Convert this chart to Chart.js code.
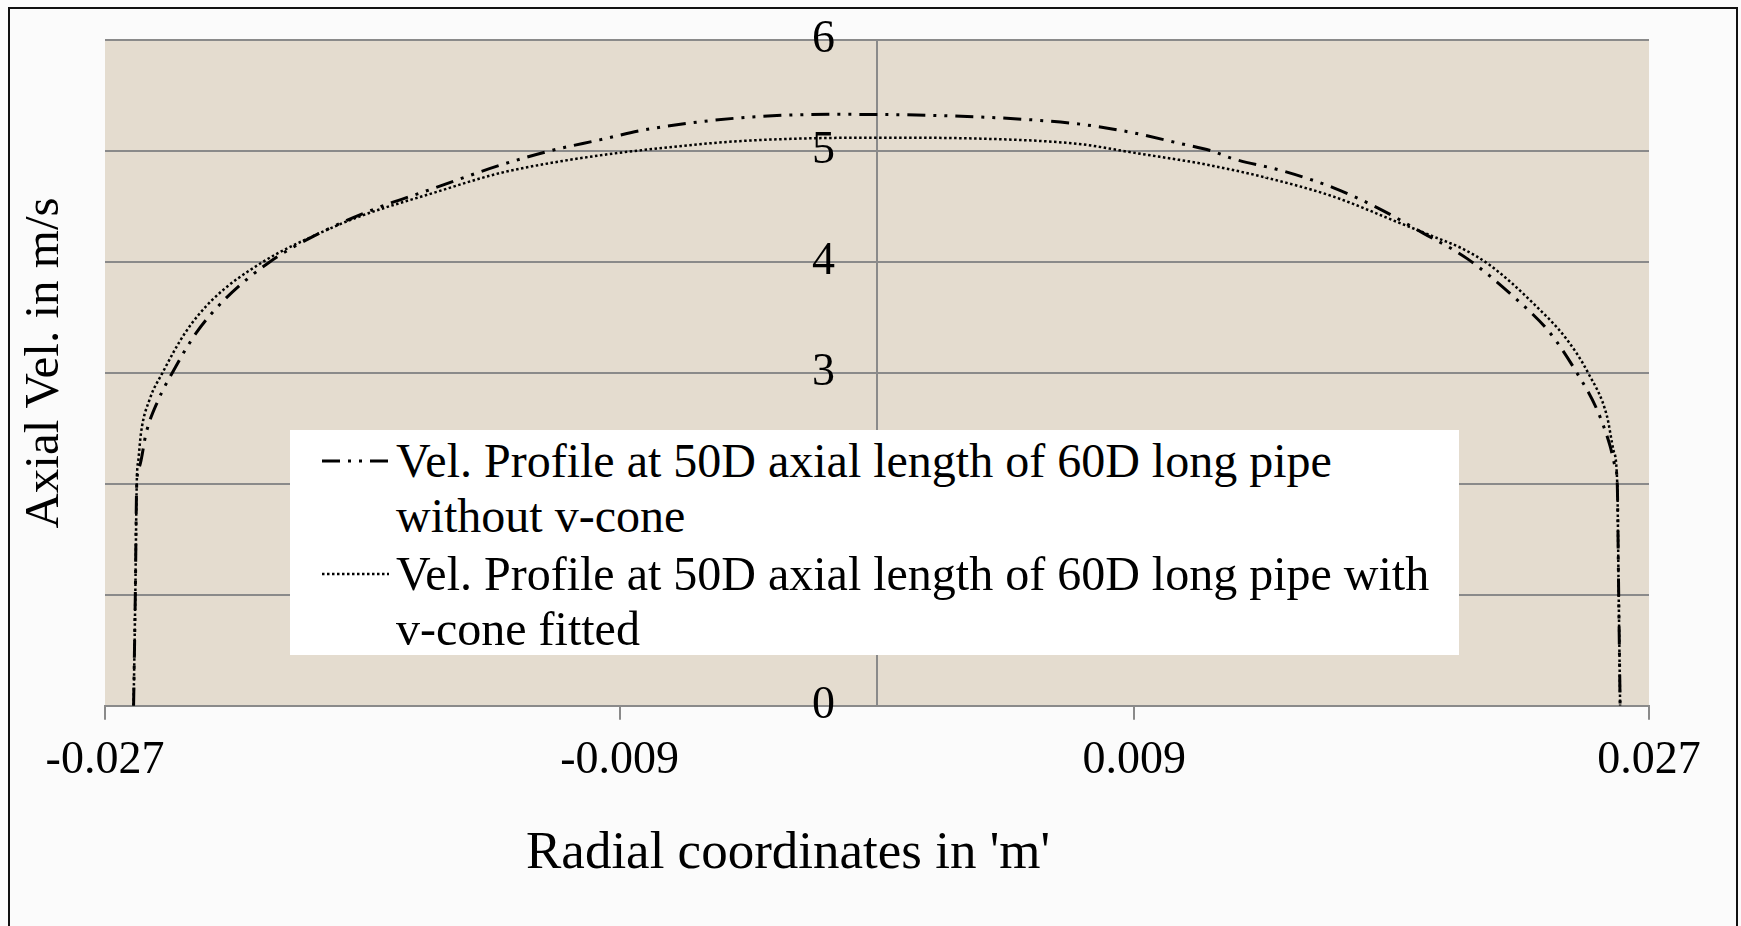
<!DOCTYPE html>
<html>
<head>
<meta charset="utf-8">
<title>Axial velocity profile</title>
<script src="https://cdn.jsdelivr.net/npm/chart.js@4.4.1/dist/chart.umd.min.js"></script>
<style>
    body {
        margin: 0;
        width: 1741px;
        height: 926px;
        overflow: hidden;
        background: #fbfbfb;
        font-family: 'Liberation Serif', 'Times New Roman', serif;
        color: #000;
    }
    #frame {
        position: absolute;
        left: 8px;
        top: 7px;
        width: 1730px;
        height: 1000px;
        border: 2px solid #111;
        box-sizing: border-box;
    }
    #wrap {
        position: absolute;
        left: 0;
        top: 0;
        width: 1741px;
        height: 926px;
    }
    #xTitle {
        position: absolute;
        left: 0;
        top: 820px;
        width: 1576px;
        line-height: 60px;
        font-size: 53px;
        text-align: center;
        white-space: nowrap;
    }
    #yTitle {
        position: absolute;
        left: -258px;
        top: 335px;
        width: 600px;
        height: 56px;
        line-height: 56px;
        font-size: 49px;
        text-align: center;
        white-space: nowrap;
        transform: rotate(-90deg);
    }
    #legend {
        position: absolute;
        left: 290px;
        top: 430px;
        width: 1169px;
        height: 225px;
        background: #fff;
        box-sizing: border-box;
        padding-top: 3px;
    }
    #legend .item {
        position: relative;
    }
    #legend .item + .item {
        margin-top: 3px;
    }
    #legend svg {
        position: absolute;
        left: 32px;
        top: 25px;
    }
    #legend .txt {
        margin-left: 106px;
        width: 1060px;
        font-size: 48px;
        line-height: 55px;
    }
</style>
</head>
<body>
<div id="frame"></div>
<div id="wrap"><canvas id="profileChart"></canvas></div>
<div id="xTitle">Radial coordinates in 'm'</div>
<div id="yTitle">Axial Vel. in m/s</div>
<div id="legend"></div>

<script>
// Series labels
const seriesLabels = [
    'Vel. Profile at 50D axial length of 60D long pipe without v-cone',
    'Vel. Profile at 50D axial length of 60D long pipe with v-cone fitted'
];

// Without v-cone
const radialA = [-0.0260, -0.02594, -0.02589, -0.02579, -0.02556, -0.02513, -0.02465, -0.02381, -0.02282,
    -0.02124, -0.01949, -0.01764, -0.01554, -0.01320, -0.01145, -0.00970, -0.00813, -0.00473, -0.00134,
    0.00206, 0.00545, 0.00716, 0.00884, 0.01056, 0.01171, 0.01245, 0.01420, 0.01595, 0.01749, 0.01910,
    0.02064, 0.02238, 0.02354, 0.02448, 0.02518, 0.02564, 0.02582, 0.02589, 0.02594, 0.02599];
const velA = [0, 1.0, 2.0, 2.16, 2.46, 2.76, 3.0, 3.36, 3.66,
    4.0, 4.26, 4.47, 4.66, 4.87, 5.0, 5.10, 5.19, 5.30, 5.33,
    5.32, 5.28, 5.24, 5.17, 5.07, 5.0, 4.93, 4.82, 4.67, 4.49, 4.26,
    4.03, 3.66, 3.36, 3.0, 2.67, 2.34, 2.15, 2.0, 1.0, 0];

// With v-cone fitted
const radialB = [-0.0260, -0.02594, -0.02589, -0.02583, -0.02574, -0.02544, -0.02499, -0.02420, -0.02324, -0.02148,
    -0.01949, -0.01799, -0.01554, -0.01320, -0.01145, -0.00970, -0.00813, -0.00473, 0,
    0.00378, 0.00716, 0.00884, 0.01056, 0.01127, 0.01360, 0.01595, 0.01829, 0.01945, 0.02047,
    0.02144, 0.02294, 0.02413, 0.02487, 0.02553, 0.02576, 0.02589, 0.02594, 0.02599];
const velB = [0, 1.0, 2.0, 2.22, 2.46, 2.76, 3.0, 3.36, 3.66, 4.0,
    4.26, 4.42, 4.62, 4.80, 4.89, 4.96, 5.01, 5.09, 5.12,
    5.11, 5.06, 4.99, 4.92, 4.89, 4.76, 4.59, 4.35, 4.23, 4.12,
    3.97, 3.63, 3.30, 3.0, 2.61, 2.30, 2.0, 1.0, 0];

// Tick labels
const xTicks = [-0.027, -0.009, 0.009, 0.027];
const yTicks = [0, 1, 2, 3, 4, 5, 6];

const serif = "'Liberation Serif', 'Times New Roman', serif";
const gridGray = '#8a8a8a';

function toPoints(xs, ys) {
    return xs.map((x, i) => ({ x: x, y: ys[i] }));
}

function setYTicks(scale) {
    scale.ticks = yTicks.map(v => ({ value: v }));
}

// beige plot area
const plotBackground = {
    id: 'plotBackground',
    beforeDraw(chart) {
        const { ctx, chartArea } = chart;
        ctx.save();
        ctx.fillStyle = '#e4dccf';
        ctx.fillRect(chartArea.left, chartArea.top, chartArea.right - chartArea.left, chartArea.bottom - chartArea.top);
        ctx.restore();
    }
};

const ctx = document.getElementById('profileChart').getContext('2d');

const profileChart = new Chart(ctx, {
    type: 'line',
    data: {
        datasets: [
            {
                label: seriesLabels[0],
                data: toPoints(radialA, velA),
                borderColor: '#000',
                borderWidth: 3,
                borderDash: [18, 8, 3, 8, 3, 8],
                pointRadius: 0,
                fill: false,
                cubicInterpolationMode: 'monotone'
            },
            {
                label: seriesLabels[1],
                data: toPoints(radialB, velB),
                borderColor: '#000',
                borderWidth: 2.5,
                borderDash: [2.5, 2.5],
                pointRadius: 0,
                fill: false,
                cubicInterpolationMode: 'monotone'
            }
        ]
    },
    options: {
        responsive: true,
        maintainAspectRatio: false,
        animation: false,
        layout: {
            padding: { left: 105, right: 92, top: 40, bottom: 123 }
        },
        plugins: {
            legend: { display: false },
            tooltip: { enabled: false }
        },
        scales: {
            x: {
                type: 'linear',
                min: -0.027,
                max: 0.027,
                afterBuildTicks: scale => {
                    scale.ticks = xTicks.map(v => ({ value: v }));
                },
                grid: {
                    drawOnChartArea: false,
                    drawTicks: true,
                    tickLength: 14,
                    color: gridGray,
                    lineWidth: 2
                },
                border: {
                    display: true,
                    color: gridGray,
                    width: 2
                },
                ticks: {
                    color: '#000',
                    padding: 14,
                    maxRotation: 0,
                    autoSkip: false,
                    callback: v => v.toFixed(3),
                    font: { family: serif, size: 46 }
                }
            },
            // value axis line at x = 0 with the horizontal gridlines
            y: {
                type: 'linear',
                position: { x: 0 },
                min: 0,
                max: 6,
                afterBuildTicks: setYTicks,
                grid: {
                    color: gridGray,
                    lineWidth: 2,
                    drawTicks: false
                },
                border: {
                    display: true,
                    color: gridGray,
                    width: 2
                },
                ticks: {
                    display: false
                }
            },
            // tick labels, set a little left of the axis line
            yLabels: {
                type: 'linear',
                axis: 'y',
                position: { x: -0.00147 },
                min: 0,
                max: 6,
                afterBuildTicks: setYTicks,
                grid: { display: false },
                border: { display: false },
                ticks: {
                    color: '#000',
                    padding: 0,
                    font: { family: serif, size: 46 }
                }
            }
        }
    },
    plugins: [plotBackground]
});

// legend box built from the datasets
const legendEl = document.getElementById('legend');
profileChart.data.datasets.forEach(ds => {
    const item = document.createElement('div');
    item.className = 'item';
    const svgNS = 'http://www.w3.org/2000/svg';
    const svg = document.createElementNS(svgNS, 'svg');
    svg.setAttribute('width', '67');
    svg.setAttribute('height', '6');
    const line = document.createElementNS(svgNS, 'line');
    line.setAttribute('x1', '0');
    line.setAttribute('x2', '67');
    line.setAttribute('y1', '3');
    line.setAttribute('y2', '3');
    line.setAttribute('stroke', ds.borderColor);
    line.setAttribute('stroke-width', ds.borderWidth);
    line.setAttribute('stroke-dasharray', ds.borderDash.join(' '));
    svg.appendChild(line);
    const txt = document.createElement('div');
    txt.className = 'txt';
    txt.textContent = ds.label;
    item.appendChild(svg);
    item.appendChild(txt);
    legendEl.appendChild(item);
});
</script>
</body>
</html>
